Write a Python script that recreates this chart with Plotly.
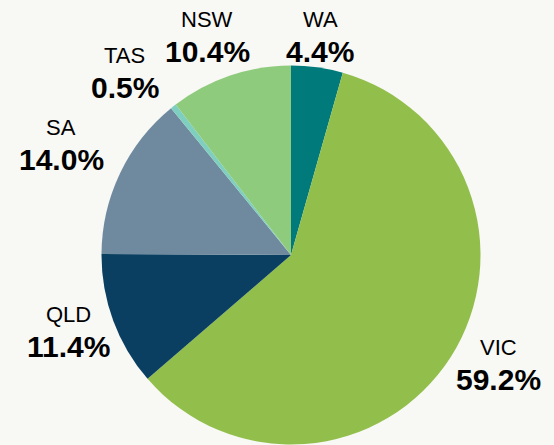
import plotly.graph_objects as go

# Share by state, listed clockwise from 12 o'clock
states = ["WA", "VIC", "QLD", "SA", "TAS", "NSW"]
shares = [4.4, 59.2, 11.4, 14.0, 0.5, 10.4]
colors = ["#017a7b", "#92bf4c", "#0a3f62", "#6f8a9f", "#7ecfbf", "#8fcb7c"]

W, H = 554, 445
BG = "#f8f8f5"

# Label block centres (pixels from top-left): name line, value line below it
label_xy = {
    "WA": (320, 19),
    "VIC": (498, 347),
    "QLD": (68, 314),
    "SA": (61, 127),
    "TAS": (125, 56),
    "NSW": (207, 19),
}
line_gap = 32

# Pie placement in pixels
cx, cy, r = 291, 255, 189.5

fig = go.Figure(
    go.Pie(
        labels=states,
        values=shares,
        sort=False,
        direction="clockwise",
        rotation=0,
        marker=dict(colors=colors, line=dict(width=0)),
        textinfo="none",
        hovertemplate="%{label}: %{value:.1f}%<extra></extra>",
        domain=dict(
            x=[(cx - r) / W, (cx + r) / W],
            y=[(H - cy - r) / H, (H - cy + r) / H],
        ),
        showlegend=False,
    )
)

annotations = []
for name, val in zip(states, shares):
    px, py = label_xy[name]
    annotations.append(dict(
        x=px / W, y=1 - py / H, xref="paper", yref="paper",
        text=name, showarrow=False, xanchor="center", yanchor="middle",
        font=dict(family="Liberation Sans, Arial, sans-serif", size=22, color="#000000"),
    ))
    annotations.append(dict(
        x=px / W, y=1 - (py + line_gap) / H, xref="paper", yref="paper",
        text=f"<b>{val:.1f}%</b>", showarrow=False, xanchor="center", yanchor="middle",
        font=dict(family="Liberation Sans, Arial, sans-serif", size=30, color="#000000"),
    ))

fig.update_layout(
    width=W, height=H,
    margin=dict(l=0, r=0, t=0, b=0),
    paper_bgcolor=BG, plot_bgcolor=BG,
    annotations=annotations,
)

fig.write_html("out.html")
